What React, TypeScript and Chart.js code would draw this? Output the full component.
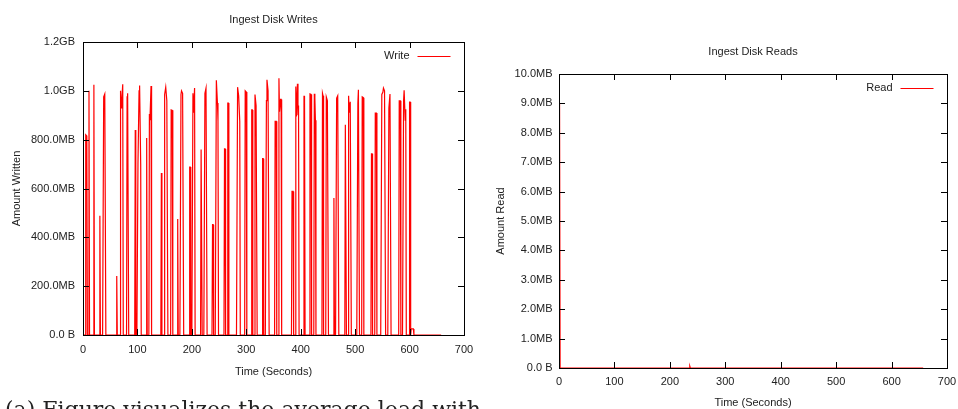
import React, { useEffect, useRef } from "react";
import { Chart, registerables } from "chart.js";

Chart.register(...registerables);

// ---------- data ----------
const writeTime = [
  0, 4, 5, 7, 8, 10, 11, 12, 19, 20, 21, 30, 31, 32, 36, 38, 40, 42, 61, 62, 63,
  68, 69, 70, 71, 73, 74, 80, 81, 82, 84, 95, 96, 97, 99, 101, 103, 104, 106, 107,
  116, 117, 118, 121, 122, 123, 125, 126, 143, 144, 145, 149, 150, 152, 154, 156,
  161, 162, 164, 165, 173, 174, 175, 178, 180, 181, 183, 185, 195, 196, 197, 198,
  200, 202, 203, 205, 206, 216, 217, 218, 219, 222, 224, 226, 228, 237, 238, 239, 240,
  243, 245, 247, 248, 249, 259, 260, 261, 262, 265, 266, 267, 268, 282, 284, 286, 288, 289,
  297, 298, 300, 301, 309, 310, 311, 312, 315, 316, 318, 320, 329, 330, 331, 332,
  335, 337, 338, 340, 342, 352, 353, 355, 356, 359, 360, 361, 363, 364, 365,
  383, 384, 386, 387, 390, 391, 392, 394, 395, 396, 397, 405, 406, 407, 408,
  416, 417, 419, 420, 424, 425, 426, 427, 428, 439, 440, 441, 442, 446, 447, 449, 451,
  460, 461, 462, 464, 466, 468, 470, 481, 482, 483, 484, 487, 488, 489, 491, 493,
  503, 505, 506, 508, 512, 513, 515, 516, 529, 530, 531, 532, 536, 537, 539, 540,
  547, 549, 551, 552, 554, 556, 560, 562, 564, 566, 580, 581, 583, 584,
  587, 589, 590, 592, 593, 594, 599, 600, 601, 602, 603, 607, 608, 658,
];
const writeMB = [
  0, 0, 820, 815, 0, 0, 1000, 0, 0, 1025, 0, 0, 488, 0, 0, 975, 987, 0, 0, 242, 0,
  0, 1000, 930, 950, 1027, 0, 0, 975, 990, 0, 0, 840, 0, 0, 700, 1000, 1022, 700, 0,
  0, 807, 0, 0, 905, 880, 1020, 0, 0, 663, 0, 0, 985, 1015, 960, 0,
  0, 922, 920, 0, 0, 475, 0, 0, 985, 1000, 990, 0, 0, 688, 688, 0,
  0, 990, 910, 1012, 0, 0, 760, 760, 0, 0, 990, 1011, 0, 0, 452, 452, 0,
  0, 1043, 950, 875, 0, 0, 762, 762, 0, 0, 950, 950, 0, 0, 1015, 980, 875, 0,
  0, 1000, 995, 0, 0, 922, 922, 0, 0, 985, 940, 0, 0, 722, 722, 0,
  0, 960, 1045, 1000, 0, 0, 875, 875, 0, 0, 1052, 915, 965, 965, 0,
  0, 588, 588, 0, 0, 1018, 895, 1029, 900, 940, 0, 0, 977, 977, 0,
  0, 987, 985, 0, 0, 988, 970, 880, 0, 0, 990, 980, 0, 0, 975, 960, 0,
  0, 561, 0, 0, 970, 980, 0, 0, 861, 861, 0, 0, 980, 910, 955, 0,
  0, 950, 1004, 0, 0, 975, 972, 0, 0, 742, 742, 0, 0, 909, 909, 0,
  0, 985, 995, 1011, 1000, 0, 0, 930, 987, 0, 0, 959, 959, 0,
  0, 960, 1002, 880, 925, 0, 0, 954, 954, 0, 25, 25, 0, 0,
];
const readTime = [0, 1, 2, 235, 236, 237, 657];
const readMB = [0, 9.0, 0, 0, 0.06, 0, 0];

const xTickLabels = ["0", "100", "200", "300", "400", "500", "600", "700"];
const writeTickLabels = ["0.0 B", "200.0MB", "400.0MB", "600.0MB", "800.0MB", "1.0GB", "1.2GB"];
const readTickLabels = [
  "0.0 B", "1.0MB", "2.0MB", "3.0MB", "4.0MB", "5.0MB",
  "6.0MB", "7.0MB", "8.0MB", "9.0MB", "10.0MB",
];

const FONT = "'Liberation Sans', Arial, Helvetica, sans-serif";
const TEXT = "#222";

// frame, inward ticks and gnuplot-style legend
const gnuFrame = {
  id: "gnuFrame",
  afterDatasetsDraw(chart: any, _args: any, opts: any) {
    const { ctx, chartArea: a, scales } = chart;
    ctx.save();
    ctx.strokeStyle = "#000";
    ctx.lineWidth = 1;
    const tl = 6;
    const xs = scales.x;
    const ys = scales.y;
    ctx.beginPath();
    xs.ticks.forEach((t: any) => {
      const p = Math.round(xs.getPixelForValue(t.value)) + 0.5;
      ctx.moveTo(p, a.bottom);
      ctx.lineTo(p, a.bottom - tl);
      ctx.moveTo(p, a.top);
      ctx.lineTo(p, a.top + tl);
    });
    ys.ticks.forEach((t: any) => {
      const p = Math.round(ys.getPixelForValue(t.value)) + 0.5;
      ctx.moveTo(a.left, p);
      ctx.lineTo(a.left + tl, p);
      ctx.moveTo(a.right, p);
      ctx.lineTo(a.right - tl, p);
    });
    ctx.stroke();
    ctx.strokeRect(
      Math.round(a.left) + 0.5,
      Math.round(a.top) + 0.5,
      Math.round(a.right - a.left),
      Math.round(a.bottom - a.top)
    );
    // legend
    const ly = a.top + 14;
    const lineEnd = a.right - 13.5;
    const lineStart = lineEnd - 33;
    ctx.font = `11px ${FONT}`;
    ctx.fillStyle = TEXT;
    ctx.textAlign = "right";
    ctx.textBaseline = "middle";
    ctx.fillText(opts.label, lineStart - 8, ly);
    ctx.strokeStyle = "#ff0000";
    ctx.beginPath();
    ctx.moveTo(lineStart, Math.round(ly) + 0.5);
    ctx.lineTo(lineEnd, Math.round(ly) + 0.5);
    ctx.stroke();
    ctx.restore();
  },
};

type Spec = {
  title: string;
  yTitle: string;
  label: string;
  times: number[];
  values: number[];
  yMax: number;
  yStep: number;
  yLabels: string[];
  yWidth: number;
  yTitlePad: number;
  yTickPad: number;
  xHeight: number;
  xTickPad: number;
  xTitlePad: number;
  rightPad: number;
};

function GnuChart({ spec, style }: { spec: Spec; style: React.CSSProperties }) {
  const ref = useRef<HTMLCanvasElement>(null);
  useEffect(() => {
    const data = spec.times.map((t, i) => ({ x: t, y: spec.values[i] }));
    const chart = new Chart(ref.current as HTMLCanvasElement, {
      type: "line",
      data: {
        datasets: [
          {
            label: spec.label,
            data,
            borderColor: "#ff0000",
            borderWidth: 1.2,
            pointRadius: 0,
            tension: 0,
            fill: false,
          },
        ],
      },
      options: {
        animation: false,
        responsive: false,
        devicePixelRatio: 1,
        layout: { padding: { left: 0, right: spec.rightPad, top: 0, bottom: 0 } },
        plugins: {
          legend: { display: false },
          tooltip: { enabled: false },
          title: {
            display: true,
            fullSize: false,
            text: spec.title,
            color: TEXT,
            font: { family: FONT, size: 11, weight: "normal" },
            padding: { top: 12.9, bottom: 15.9 },
          },
          gnuFrame: { label: spec.label },
        } as any,
        scales: {
          x: {
            type: "linear",
            min: 0,
            max: 700,
            grid: { display: false, drawTicks: false },
            border: { display: false },
            ticks: {
              stepSize: 100,
              padding: spec.xTickPad,
              color: TEXT,
              font: { family: FONT, size: 11 },
              maxRotation: 0,
              callback: (_v: any, i: number) => xTickLabels[i],
            },
            title: {
              display: true,
              text: "Time (Seconds)",
              color: TEXT,
              font: { family: FONT, size: 11 },
              padding: { top: 0, bottom: spec.xTitlePad },
            },
            afterFit: (s: any) => {
              s.height = spec.xHeight;
              s.paddingLeft = 0;
              s.paddingRight = 0;
            },
          },
          y: {
            type: "linear",
            min: 0,
            max: spec.yMax,
            grid: { display: false, drawTicks: false },
            border: { display: false },
            ticks: {
              stepSize: spec.yStep,
              padding: spec.yTickPad,
              color: TEXT,
              font: { family: FONT, size: 11 },
              callback: (_v: any, i: number) => spec.yLabels[i],
            },
            title: {
              display: true,
              text: spec.yTitle,
              color: TEXT,
              font: { family: FONT, size: 11 },
              padding: { top: spec.yTitlePad, bottom: 0 },
            },
            afterFit: (s: any) => {
              s.width = spec.yWidth;
              s.paddingTop = 0;
              s.paddingBottom = 0;
            },
          },
        },
      } as any,
      plugins: [gnuFrame],
    });
    return () => chart.destroy();
  }, [spec]);
  return <canvas ref={ref} width={style.width as number} height={style.height as number} style={style} />;
}

const writeSpec: Spec = {
  title: "Ingest Disk Writes",
  yTitle: "Amount Written",
  label: "Write",
  times: writeTime,
  values: writeMB,
  yMax: 1200,
  yStep: 200,
  yLabels: writeTickLabels,
  yWidth: 83,
  yTitlePad: 9.9,
  yTickPad: 8,
  xHeight: 50,
  xTickPad: 8,
  xTitlePad: 6.6,
  rightPad: 16,
};

const readSpec: Spec = {
  title: "Ingest Disk Reads",
  yTitle: "Amount Read",
  label: "Read",
  times: readTime,
  values: readMB,
  yMax: 10,
  yStep: 1,
  yLabels: readTickLabels,
  yWidth: 79,
  yTitlePad: 14.4,
  yTickPad: 6.5,
  xHeight: 44,
  xTickPad: 7.4,
  xTitlePad: 2.4,
  rightPad: 11,
};

export default function App() {
  return (
    <div
      style={{
        position: "absolute",
        left: 0,
        top: 0,
        width: 958,
        height: 409,
        overflow: "hidden",
        background: "#fff",
      }}
    >
      <GnuChart
        spec={writeSpec}
        style={{ position: "absolute", left: 0, top: 0, width: 480, height: 385 }}
      />
      <GnuChart
        spec={readSpec}
        style={{ position: "absolute", left: 480, top: 32, width: 478, height: 380 }}
      />
      <div
        style={{
          position: "absolute",
          left: 5,
          top: 400,
          width: 478,
          overflow: "hidden",
          whiteSpace: "nowrap",
          fontFamily: "'DejaVu Serif', serif",
          fontSize: 22,
          lineHeight: "20px",
          color: "#222",
        }}
      >
        (a) Figure visualizes the average load with
      </div>
    </div>
  );
}
